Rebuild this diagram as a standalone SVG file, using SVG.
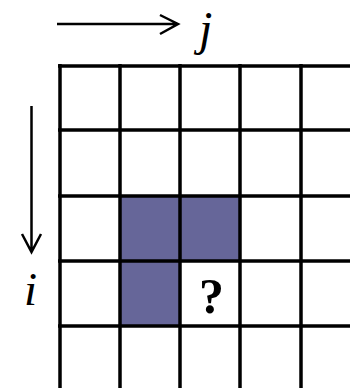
<svg xmlns="http://www.w3.org/2000/svg" width="350" height="388" viewBox="0 0 350 388">
<style>
.grid line{stroke:#000;stroke-width:3.5}
.fill{fill:#666699}
.arrow{stroke:#000;stroke-width:2.5;fill:none}
.lbl{font-family:"Liberation Serif",serif;font-style:italic;fill:#000}
.q{font-family:"Liberation Serif",serif;font-weight:bold;font-size:50px;fill:#000}
</style>
<rect width="350" height="388" fill="#fff"/>
<g id="shaded">
<rect class="fill" x="120" y="196" width="120" height="65"/>
<rect class="fill" x="120" y="261" width="60" height="65"/>
</g>
<g id="grid" class="grid">
<line x1="60" y1="64" x2="60" y2="388"/>
<line x1="120" y1="64" x2="120" y2="388"/>
<line x1="180" y1="64" x2="180" y2="388"/>
<line x1="240" y1="64" x2="240" y2="388"/>
<line x1="301" y1="64" x2="301" y2="388"/>
<line x1="58" y1="66" x2="350" y2="66"/>
<line x1="58" y1="130" x2="350" y2="130"/>
<line x1="58" y1="196" x2="350" y2="196"/>
<line x1="58" y1="261" x2="350" y2="261"/>
<line x1="58" y1="326" x2="350" y2="326"/>
</g>
<g id="connectors">
<path class="arrow" d="M57 24H177M160 15L178 24L160 34"/>
<path class="arrow" d="M31.5 106V251M22 234L31.5 252L41 234"/>
</g>
<g id="label-j"><text class="lbl" x="199" y="45" font-size="48">j</text></g>
<g id="label-i"><text class="lbl" x="24" y="305" font-size="47">i</text></g>
<g id="label-q"><text class="q" x="199" y="313">?</text></g>
</svg>
